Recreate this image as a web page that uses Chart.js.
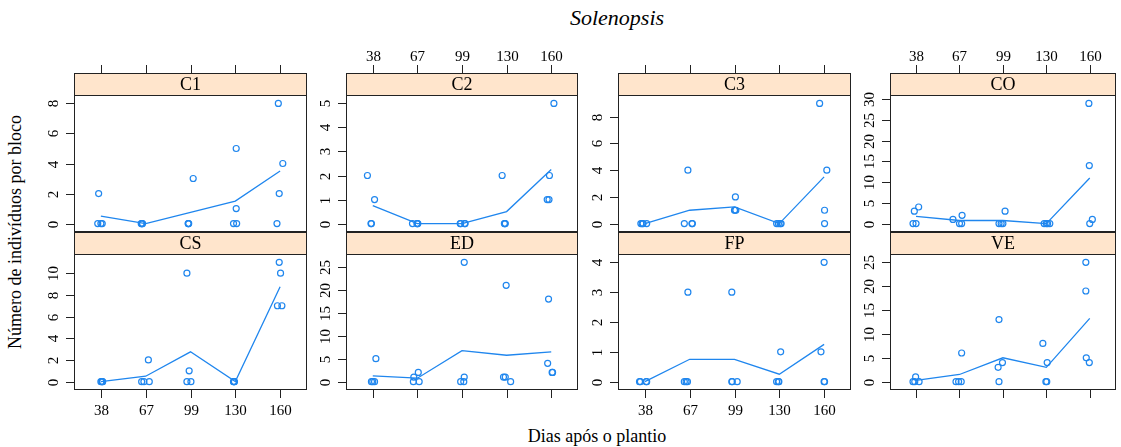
<!DOCTYPE html>
<html>
<head>
<meta charset="utf-8">
<script src="https://cdn.jsdelivr.net/npm/chart.js@4/dist/chart.umd.min.js"></script>
<style>
  html, body { margin: 0; padding: 0; background: #fff; }
  #fig { position: relative; width: 1121px; height: 447px; overflow: hidden;
         font-family: "Liberation Serif", "DejaVu Serif", serif; color: #000; }
  #fig canvas { position: absolute; left: 0; top: 0; }
  .lab { position: absolute; white-space: nowrap; line-height: 1; transform: translate(-50%, -50%); }
  #title { left: 617px; top: 18px; font-size: 22px; font-style: italic; }
  #xlab { left: 597px; top: 436px; font-size: 18px; }
  #ylab { left: 15px; top: 232px; font-size: 18px; transform: translate(-50%, -50%) rotate(-90deg); }
</style>
</head>
<body>
<div id="fig">
  <div class="lab" id="title">Solenopsis</div>
  <div class="lab" id="xlab">Dias após o plantio</div>
  <div class="lab" id="ylab">Número de indivíduos por bloco</div>
</div>
<script>
// Sampling days (days after planting) and the treatments shown in each panel
const days = ['38', '67', '99', '130', '160'];
const treatments = ['C1', 'C2', 'C3', 'CO', 'CS', 'ED', 'FP', 'VE'];

// Individuals counted in each of the 4 blocks, one row per sampling day
const countsC1 = [[2, 0, 0, 0], [0, 0, 0, 0], [3, 0, 0, 0], [5, 1, 0, 0], [8, 4, 2, 0]];
const countsC2 = [[2, 1, 0, 0], [0, 0, 0, 0], [0, 0, 0, 0], [2, 0, 0, 0], [5, 2, 1, 1]];
const countsC3 = [[0, 0, 0, 0], [4, 0, 0, 0], [2, 1, 1, 1], [0, 0, 0, 0], [9, 4, 1, 0]];
const countsCO = [[3, 4, 0, 0], [1, 2, 0, 0], [3, 0, 0, 0], [0, 0, 0, 0], [29, 14, 1, 0]];
const countsCS = [[0, 0, 0, 0], [2, 0, 0, 0], [10, 1, 0, 0], [0, 0, 0, 0], [11, 10, 7, 7]];
const countsED = [[5, 0, 0, 0], [2, 1, 0, 0], [26, 1, 0, 0], [21, 1, 1, 0], [18, 4, 2, 2]];
const countsFP = [[0, 0, 0, 0], [3, 0, 0, 0], [3, 0, 0, 0], [1, 0, 0, 0], [4, 1, 0, 0]];
const countsVE = [[1, 0, 0, 0], [6, 0, 0, 0], [13, 4, 3, 0], [8, 4, 0, 0], [25, 19, 5, 4]];

// Horizontal jitter of each block around its sampling day
const jitterC1 = [[-0.05, -0.07, 0.03, 0.0], [-0.1, -0.08, -0.07, -0.09], [0.06, -0.05, -0.05, -0.04], [0.02, 0.02, -0.04, 0.03], [-0.04, 0.06, -0.02, -0.07]];
const jitterC2 = [[-0.12, 0.04, -0.04, -0.03], [-0.11, 0.0, 0.01, -0.01], [-0.04, 0.07, -0.03, 0.06], [-0.1, -0.04, -0.05, -0.03], [0.06, -0.04, -0.09, -0.05]];
const jitterC3 = [[-0.09, -0.04, 0.04, -0.06], [-0.04, -0.12, 0.06, 0.05], [0.02, 0.0, 0.03, 0.01], [-0.06, -0.02, 0.02, 0.04], [-0.1, 0.06, 0.01, 0.01]];
const jitterCO = [[-0.04, 0.06, -0.07, 0.0], [-0.15, 0.06, 0.0, 0.05], [0.05, -0.09, 0.0, -0.04], [-0.05, 0.0, 0.08, 0.03], [-0.02, -0.01, 0.06, 0.0]];
const jitterCS = [[0.0, 0.02, 0.04, 0.03], [0.06, -0.09, -0.04, 0.08], [-0.08, -0.03, -0.08, 0.01], [-0.04, -0.03, -0.02, -0.03], [-0.02, 0.01, -0.06, 0.04]];
const jitterED = [[0.07, -0.03, 0.0, 0.04], [0.02, -0.08, -0.09, 0.04], [0.05, 0.05, -0.03, 0.04], [-0.01, -0.07, -0.03, 0.09], [-0.06, -0.08, 0.03, 0.02]];
const jitterFP = [[-0.12, 0.04, 0.03, -0.1], [-0.04, -0.12, -0.08, -0.05], [-0.06, -0.06, 0.06, -0.05], [0.03, -0.06, -0.02, -0.01], [0.0, -0.07, 0.0, 0.01]];
const jitterVE = [[-0.01, -0.07, 0.07, -0.03], [0.05, -0.08, -0.02, 0.04], [-0.09, -0.01, -0.11, -0.09], [-0.08, 0.02, -0.01, 0.01], [-0.09, -0.09, -0.08, -0.01]];

// Y-axis tick labels for each panel
const ticksC1 = [0, 2, 4, 6, 8];
const ticksC2 = [0, 1, 2, 3, 4, 5];
const ticksC3 = [0, 2, 4, 6, 8];
const ticksCO = [0, 5, 10, 15, 20, 25, 30];
const ticksCS = [0, 2, 4, 6, 8, 10];
const ticksED = [0, 5, 10, 15, 20, 25];
const ticksFP = [0, 1, 2, 3, 4];
const ticksVE = [0, 5, 10, 15, 20, 25];

const countsBy = [countsC1, countsC2, countsC3, countsCO, countsCS, countsED, countsFP, countsVE];
const jitterBy = [jitterC1, jitterC2, jitterC3, jitterCO, jitterCS, jitterED, jitterFP, jitterVE];
const ticksBy = [ticksC1, ticksC2, ticksC3, ticksCO, ticksCS, ticksED, ticksFP, ticksVE];

// Page layout: 4 columns x 2 rows of panels, each topped by a strip
const W = 1121, H = 447;
const colEdges = [[74, 307], [346, 578], [618, 851], [890, 1121]];
const rowEdges = [[95, 232], [254, 390]];
const STRIP = 22, TICK = 8;
const POINT_COLOR = '#1f86ee';
const FRAME = '#222';
const TICK_FONT = '15px "Liberation Serif", "DejaVu Serif", serif';
const STRIP_FONT = '18px "Liberation Serif", "DejaVu Serif", serif';

const latticePanel = {
  id: 'latticePanel',
  afterDraw(chart, args, o) {
    const { ctx, chartArea: a } = chart;
    const xs = chart.scales.x, ys = chart.scales.y;
    const L = Math.round(a.left), R = Math.round(a.right);
    const T = Math.round(a.top), B = Math.round(a.bottom);
    ctx.save();
    ctx.lineWidth = 1;
    ctx.strokeStyle = FRAME;
    // strip with the treatment name
    ctx.fillStyle = '#ffe5cc';
    ctx.fillRect(L, T - STRIP, R - L, STRIP);
    ctx.strokeRect(L + 0.5, T - STRIP + 0.5, R - L - 1, STRIP);
    ctx.fillStyle = '#000';
    ctx.font = STRIP_FONT;
    ctx.textAlign = 'center';
    ctx.textBaseline = 'middle';
    ctx.fillText(o.name, (L + R) / 2, T - STRIP / 2 + 1);
    // panel frame
    ctx.strokeRect(L + 0.5, T + 0.5, R - L - 1, B - T - 1);
    ctx.font = TICK_FONT;
    // y axis: ticks and rotated labels
    o.ticks.forEach(v => {
      const py = Math.round(ys.getPixelForValue(v)) + 0.5;
      ctx.beginPath();
      ctx.moveTo(L - TICK, py);
      ctx.lineTo(L, py);
      ctx.stroke();
      ctx.save();
      ctx.translate(L - 20, py);
      ctx.rotate(-Math.PI / 2);
      ctx.fillText(String(v), 0, 0);
      ctx.restore();
    });
    // x axis: ticks above the strip on the top row, below the panel on the bottom row
    days.forEach((d, i) => {
      const px = Math.round(xs.getPixelForValue(i + 1)) + 0.5;
      ctx.beginPath();
      if (o.row === 0) {
        const top = T - STRIP;
        ctx.moveTo(px, top - TICK);
        ctx.lineTo(px, top);
        ctx.stroke();
        if (o.col % 2 === 1) ctx.fillText(d, px, top - 16);
      } else {
        ctx.moveTo(px, B);
        ctx.lineTo(px, B + TICK);
        ctx.stroke();
        if (o.col % 2 === 0) ctx.fillText(d, px, B + 21);
      }
    });
    ctx.restore();
  }
};

const fig = document.getElementById('fig');
treatments.forEach((name, k) => {
  const col = k % 4, row = Math.floor(k / 4);
  const counts = countsBy[k], jitter = jitterBy[k];
  const points = [];
  counts.forEach((blocks, i) => blocks.forEach((c, j) => points.push({ x: i + 1 + jitter[i][j], y: c })));
  const means = counts.map((blocks, i) => ({ x: i + 1, y: blocks.reduce((s, c) => s + c, 0) / blocks.length }));
  const top = Math.max(...counts.flat());
  const pad = 0.07 * top;

  const canvas = document.createElement('canvas');
  canvas.width = W; canvas.height = H;
  canvas.style.width = W + 'px'; canvas.style.height = H + 'px';
  fig.appendChild(canvas);

  new Chart(canvas, {
    type: 'scatter',
    data: {
      datasets: [
        { type: 'line', data: means, borderColor: POINT_COLOR, borderWidth: 1.3,
          pointRadius: 0, fill: false, tension: 0 },
        { type: 'scatter', data: points, pointStyle: 'circle', pointRadius: 3,
          borderColor: POINT_COLOR, backgroundColor: 'rgba(0,0,0,0)', borderWidth: 1.2 }
      ]
    },
    options: {
      responsive: false,
      animation: false,
      devicePixelRatio: 1,
      events: [],
      layout: { padding: { left: colEdges[col][0], right: W - colEdges[col][1],
                           top: rowEdges[row][0], bottom: H - rowEdges[row][1] } },
      plugins: { legend: { display: false }, tooltip: { enabled: false },
                 latticePanel: { name, ticks: ticksBy[k], row, col } },
      scales: {
        x: { type: 'linear', display: false, min: 0.4, max: 5.6 },
        y: { type: 'linear', display: false, min: -pad, max: top + pad }
      }
    },
    plugins: [latticePanel]
  });
});
</script>
</body>
</html>
